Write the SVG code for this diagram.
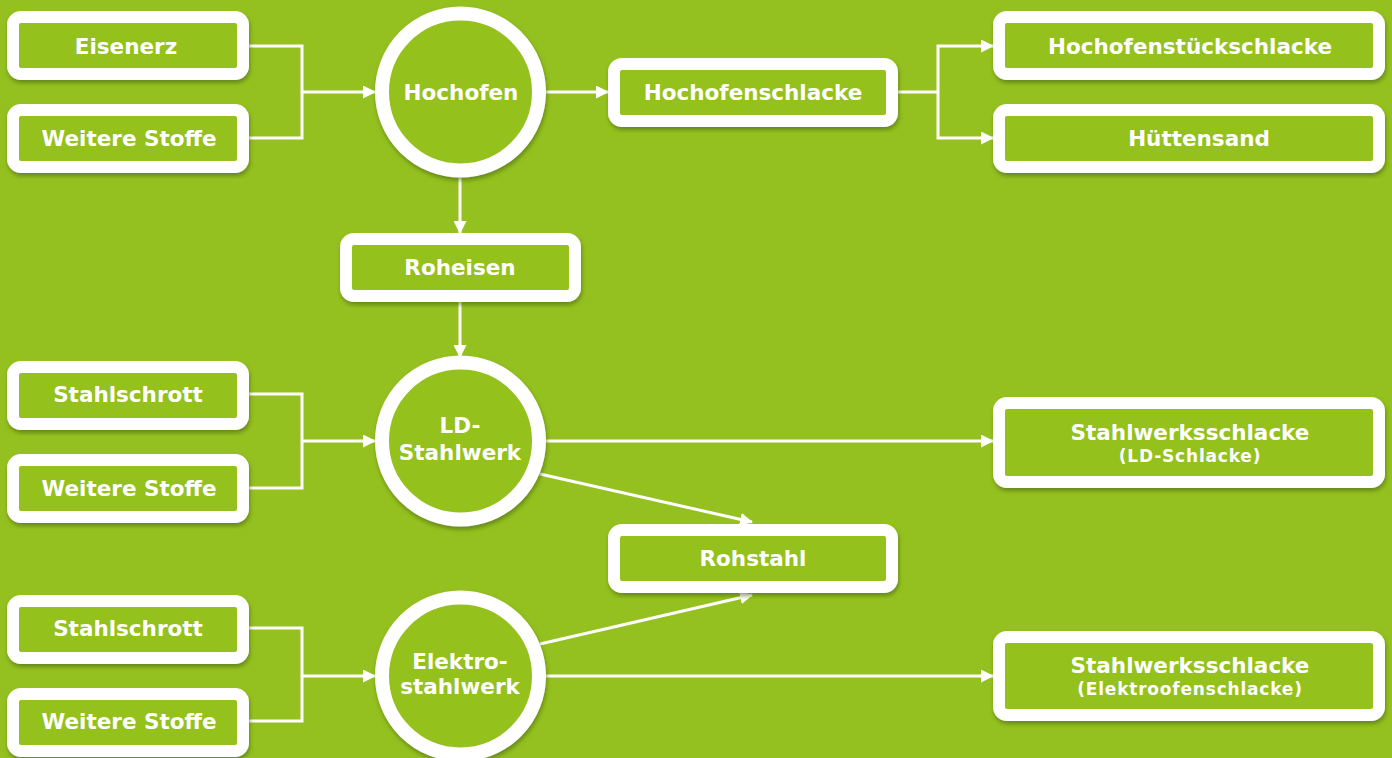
<svg xmlns="http://www.w3.org/2000/svg" width="1392" height="758" viewBox="0 0 1392 758">
<defs>
<filter id="sh" x="-10%" y="-10%" width="120%" height="130%">
<feDropShadow dx="1" dy="3" stdDeviation="2" flood-color="#3d5a08" flood-opacity="0.55"/>
</filter>
<marker id="ah" viewBox="0 0 13 13" refX="12" refY="6.5" markerWidth="13" markerHeight="13" markerUnits="userSpaceOnUse" orient="auto">
<path d="M0,0 L13,6.5 L0,13 Z" fill="#fff"/>
</marker>
<style>
.box{fill:#94c11f;stroke:#fff;stroke-width:12;filter:url(#sh)}
.circ{fill:#94c11f;stroke:#fff;stroke-width:14;filter:url(#sh)}
.t{font-family:"DejaVu Sans",Verdana,sans-serif;font-weight:bold;font-size:21.5px;fill:#fff;text-anchor:middle;dominant-baseline:central}
.s{font-size:17px;letter-spacing:0.8px}
.c{fill:none;stroke:#fff;stroke-width:3}
.a{marker-end:url(#ah)}
</style>
</defs>
<rect width="1392" height="758" fill="#94c11f"/>
<g id="connectors">
<path class="c" d="M249,46 H302 V138 H249"/>
<path class="c a" d="M302,92 H375"/>
<path class="c a" d="M546,92 H608"/>
<path class="c" d="M898,92 H938"/>
<path class="c a" d="M938,92 V46 H993"/>
<path class="c a" d="M938,92 V138 H993"/>
<path class="c a" d="M460,178 V233"/>
<path class="c a" d="M460,302 V357"/>
<path class="c" d="M249,394 H302 V488 H249"/>
<path class="c a" d="M302,441 H375"/>
<path class="c a" d="M546,441 H993"/>
<path class="c a" d="M540,474 L752,522"/>
<path class="c" d="M249,628 H302 V721 H249"/>
<path class="c a" d="M302,676 H375"/>
<path class="c a" d="M546,676 H993"/>
<path class="c a" d="M540,644 L752,595"/>
</g>
<g id="eisenerz"><rect class="box" x="13" y="17" width="230" height="57" rx="8"/><text class="t" x="126" y="46">Eisenerz</text></g>
<g id="weitere1"><rect class="box" x="13" y="110" width="230" height="57" rx="8"/><text class="t" x="129" y="138">Weitere Stoffe</text></g>
<g id="hochofen"><circle class="circ" cx="460.5" cy="92" r="78.5"/><text class="t" x="461" y="92">Hochofen</text></g>
<g id="hochofenschlacke"><rect class="box" x="614" y="64" width="278" height="57" rx="8"/><text class="t" x="753" y="92">Hochofenschlacke</text></g>
<g id="hochofenstueckschlacke"><rect class="box" x="999" y="17" width="380" height="57" rx="8"/><text class="t" x="1190" y="46">Hochofenstückschlacke</text></g>
<g id="huettensand"><rect class="box" x="999" y="110" width="380" height="57" rx="8"/><text class="t" x="1199" y="138">Hüttensand</text></g>
<g id="roheisen"><rect class="box" x="346" y="239" width="229" height="57" rx="8"/><text class="t" x="460" y="267">Roheisen</text></g>
<g id="ld-stahlwerk"><circle class="circ" cx="460.5" cy="441" r="78.5"/><text class="t" x="460" y="425">LD-</text><text class="t" x="460" y="452">Stahlwerk</text></g>
<g id="stahlschrott1"><rect class="box" x="13" y="367" width="230" height="57" rx="8"/><text class="t" x="128" y="394">Stahlschrott</text></g>
<g id="weitere2"><rect class="box" x="13" y="460" width="230" height="57" rx="8"/><text class="t" x="129" y="488">Weitere Stoffe</text></g>
<g id="ld-schlacke"><rect class="box" x="999" y="403" width="380" height="79" rx="8"/><text class="t" x="1190" y="432">Stahlwerksschlacke</text><text class="t s" x="1190" y="456">(LD-Schlacke)</text></g>
<g id="rohstahl"><rect class="box" x="614" y="530" width="278" height="57" rx="8"/><text class="t" x="753" y="558">Rohstahl</text></g>
<g id="elektrostahlwerk"><circle class="circ" cx="460.5" cy="676" r="78.5"/><text class="t" x="460" y="661">Elektro-</text><text class="t" x="460" y="686">stahlwerk</text></g>
<g id="stahlschrott2"><rect class="box" x="13" y="601" width="230" height="57" rx="8"/><text class="t" x="128" y="628">Stahlschrott</text></g>
<g id="weitere3"><rect class="box" x="13" y="694" width="230" height="57" rx="8"/><text class="t" x="129" y="721">Weitere Stoffe</text></g>
<g id="elektroofenschlacke"><rect class="box" x="999" y="637" width="380" height="78" rx="8"/><text class="t" x="1190" y="665">Stahlwerksschlacke</text><text class="t s" x="1190" y="689">(Elektroofenschlacke)</text></g>
</svg>
